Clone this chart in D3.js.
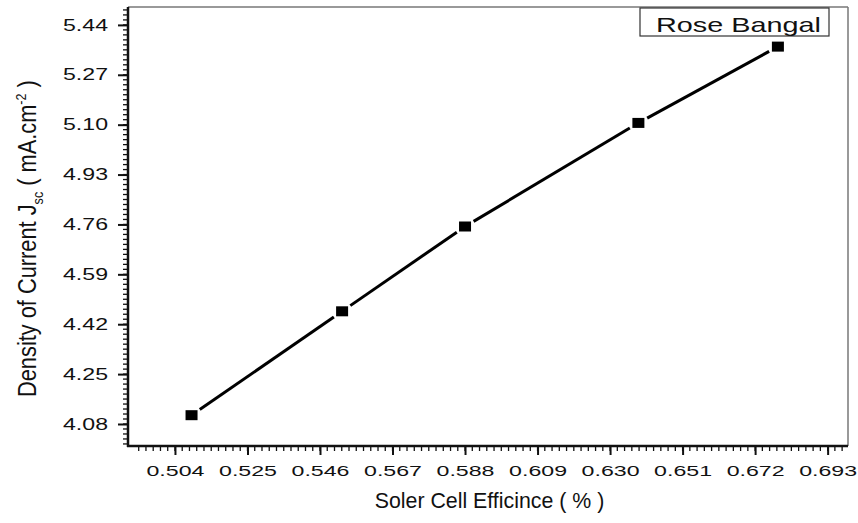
<!DOCTYPE html>
<html>
<head>
<meta charset="utf-8">
<script src="https://cdn.jsdelivr.net/npm/d3@7"></script>
<style>
  body { margin: 0; background: #fff; }
  text { font-family: "Liberation Sans", Arial, sans-serif; fill: #111; }
</style>
</head>
<body>
<svg id="chart"></svg>
<script>
// efficiency (%) vs current density
const efficiency = [0.5088, 0.5524, 0.588, 0.6382, 0.6786];
const density = [4.11, 4.464, 4.753, 5.106, 5.366];
const xTicks = [0.504, 0.525, 0.546, 0.567, 0.588, 0.609, 0.630, 0.651, 0.672, 0.693];
const yTicks = [4.08, 4.25, 4.42, 4.59, 4.76, 4.93, 5.10, 5.27, 5.44];
const seriesName = 'Rose Bangal';

const width = 858, height = 523;
const plotLeft = 128, plotRight = 848, plotTop = 7, plotBottom = 446;

const svg = d3.select('#chart')
  .attr('width', width)
  .attr('height', height);

const x = d3.scaleLinear().domain([0.4904, 0.6989]).range([plotLeft, plotRight]);
const y = d3.scaleLinear().domain([4.005, 5.501]).range([plotBottom, plotTop]);

// minor ticks
let xMinor = d3.range(0, 110).map(i => 0.4935 + i * 0.0021).filter(v => v > 0.4904 && v < 0.6989);
let yMinor = d3.range(0, 100).map(i => 4.012 + i * 0.017).filter(v => v > 4.005 && v < 5.501);

svg.append('g')
  .selectAll('line')
  .data(xMinor)
  .enter()
  .append('line')
  .attr('x1', d => x(d)).attr('x2', d => x(d))
  .attr('y1', plotBottom).attr('y2', plotBottom + 5)
  .attr('stroke', '#111').attr('stroke-width', 1.3);

svg.append('g')
  .selectAll('line')
  .data(yMinor)
  .enter()
  .append('line')
  .attr('y1', d => y(d)).attr('y2', d => y(d))
  .attr('x1', plotLeft - 5).attr('x2', plotLeft)
  .attr('stroke', '#111').attr('stroke-width', 1.3);

// major axes
let xAxis = d3.axisBottom(x).tickValues(xTicks).tickFormat(d3.format('.3f')).tickSize(9).tickPadding(10);
let yAxis = d3.axisLeft(y).tickValues(yTicks).tickFormat(d3.format('.2f')).tickSize(10).tickPadding(9);

let gx = svg.append('g').attr('transform', 'translate(0,' + plotBottom + ')').call(xAxis);
let gy = svg.append('g').attr('transform', 'translate(' + plotLeft + ',0)').call(yAxis);

[gx, gy].forEach(g => {
  g.select('.domain').remove();
  g.selectAll('line').attr('stroke', '#111').attr('stroke-width', 2);
  g.selectAll('text')
    .style('font-family', '"Liberation Sans", Arial, sans-serif')
    .style('font-size', '15px')
    .attr('fill', '#111');
});
gx.selectAll('text').each(function () {
  let len = this.getComputedTextLength();
  d3.select(this).attr('transform', 'scale(' + (58 / len) + ',1)');
});
gy.selectAll('text')
  .style('font-size', '16px')
  .attr('x', 0)
  .each(function () {
    let len = this.getComputedTextLength();
    d3.select(this).attr('transform', 'translate(-20,0) scale(' + (45 / len) + ',1)');
  });

// frame: top/right gray, left/bottom black
svg.append('line')
  .attr('x1', plotLeft).attr('x2', plotRight).attr('y1', plotTop).attr('y2', plotTop)
  .attr('stroke', '#777').attr('stroke-width', 1.5);
svg.append('line')
  .attr('x1', plotRight).attr('x2', plotRight).attr('y1', plotTop).attr('y2', plotBottom)
  .attr('stroke', '#777').attr('stroke-width', 1.5);
svg.append('line')
  .attr('x1', plotLeft).attr('x2', plotLeft).attr('y1', plotTop).attr('y2', plotBottom + 1)
  .attr('stroke', '#111').attr('stroke-width', 2.5);
svg.append('line')
  .attr('x1', plotLeft - 1).attr('x2', plotRight).attr('y1', plotBottom).attr('y2', plotBottom)
  .attr('stroke', '#111').attr('stroke-width', 2.5);

// line segments with small gaps at markers
const pts = efficiency.map((e, i) => [x(e), y(density[i])]);
const gap = 10;
for (let i = 0; i < pts.length - 1; i++) {
  let [x1, y1] = pts[i], [x2, y2] = pts[i + 1];
  let len = Math.hypot(x2 - x1, y2 - y1);
  let ux = (x2 - x1) / len, uy = (y2 - y1) / len;
  svg.append('line')
    .attr('x1', x1 + ux * gap).attr('y1', y1 + uy * gap)
    .attr('x2', x2 - ux * gap).attr('y2', y2 - uy * gap)
    .attr('stroke', '#000').attr('stroke-width', 3);
}

svg.append('g')
  .selectAll('rect')
  .data(efficiency)
  .enter()
  .append('rect')
  .attr('x', (d) => x(d) - 6)
  .attr('y', (d, i) => y(density[i]) - 5)
  .attr('width', 12)
  .attr('height', 10)
  .attr('fill', '#000');

// legend
svg.append('rect')
  .attr('x', 640).attr('y', 8)
  .attr('width', 189).attr('height', 28)
  .attr('fill', '#fff').attr('stroke', '#333').attr('stroke-width', 1.2);
let lt = svg.append('text')
  .attr('text-anchor', 'end')
  .style('font-size', '21px')
  .text(seriesName);
let ltLen = lt.node().getComputedTextLength();
lt.attr('transform', 'translate(821,32) scale(' + (165 / ltLen) + ',1)');

// axis titles
svg.append('text')
  .attr('transform', 'translate(' + ((375 + 604) / 2) + ',508) scale(0.97,1)')
  .attr('text-anchor', 'middle')
  .style('font-size', '22px')
  .text('Soler Cell Efficince ( % )');

let yt = svg.append('text')
  .attr('text-anchor', 'start')
  .style('font-size', '26px');
yt.append('tspan').text('Density of Current J');
yt.append('tspan').attr('dy', 7).style('font-size', '15px').text('sc');
yt.append('tspan').attr('dy', -7).text(' ( mA.cm');
yt.append('tspan').attr('dy', -10).style('font-size', '15px').text('-2');
yt.append('tspan').attr('dy', 10).text(' )');
// squeeze it along the baseline to the original length
let ytLen = yt.node().getComputedTextLength();
yt.attr('transform', 'translate(36,397) rotate(-90) scale(' + (317 / ytLen) + ',1)');
</script>
</body>
</html>
